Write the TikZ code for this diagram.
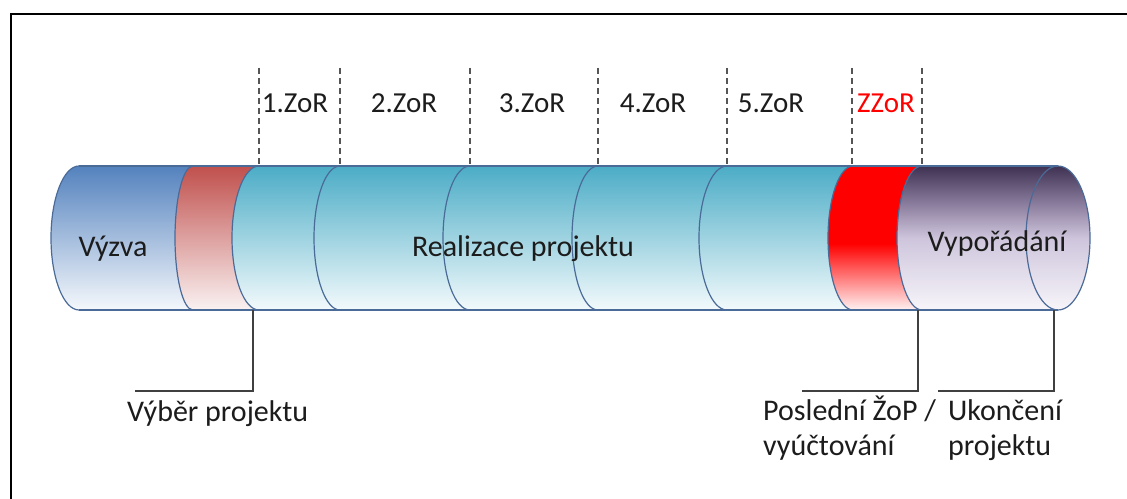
\documentclass[tikz,border=0pt]{standalone}
\usepackage{fontspec}
\setmainfont{Carlito}
\definecolor{outline}{HTML}{4A6A98}
\definecolor{txt}{HTML}{1C1C1C}
\definecolor{dashgray}{HTML}{555555}
\definecolor{callgray}{HTML}{404040}
\definecolor{blueT}{HTML}{5482BE}
\definecolor{blueB}{HTML}{F5F8FC}
\definecolor{roseT}{HTML}{C0504D}
\definecolor{roseB}{HTML}{FAF2F2}
\definecolor{tealT}{HTML}{4BACC6}
\definecolor{tealB}{HTML}{F3FAFC}
\definecolor{redT}{HTML}{FF0000}
\definecolor{redB}{HTML}{FFF2F2}
\definecolor{purpT}{HTML}{3F3151}
\definecolor{purpQ}{HTML}{8A7C9C}
\definecolor{purpM}{HTML}{CEC5DC}
\definecolor{purpB}{HTML}{F7F5FA}
\pgfdeclareverticalshading{purpshade}{100bp}{color(0bp)=(purpB); color(25bp)=(purpB); color(50bp)=(purpM); color(62bp)=(purpQ); color(75bp)=(purpT); color(100bp)=(purpT)}
\pgfdeclareverticalshading{redshade}{100bp}{color(0bp)=(redB); color(25bp)=(redB); color(48bp)=(redT); color(75bp)=(redT); color(100bp)=(redT)}
\begin{document}
\begin{tikzpicture}[x=1pt,y=1pt,
  outl/.style={draw=outline, line width=1.2pt},
  lbl/.style={font=\fontsize{30}{36}\selectfont, text=txt, inner sep=0pt},
  zlbl/.style={font=\fontsize{29}{34}\selectfont, text=txt, inner sep=0pt, anchor=base},
  tick/.style={draw=dashgray, line width=2pt, dash pattern=on 6pt off 4pt},
  callout/.style={draw=callgray, line width=2pt}]
\useasboundingbox (0,0) rectangle (1127,498);
% frame
\draw[black, line width=2.5pt] (11,-5) -- (11,484) -- (1132,484);
% segments
\shade[top color=blueT, bottom color=blueB] (79,332) arc[start angle=90,end angle=270,x radius=28,y radius=72] -- (193,188) arc[start angle=270,end angle=90,x radius=18,y radius=72] -- cycle;
\shade[top color=roseT, bottom color=roseB] (193,332) arc[start angle=90,end angle=270,x radius=18,y radius=72] -- (259,188) arc[start angle=270,end angle=90,x radius=27,y radius=72] -- cycle;
\shade[top color=tealT, bottom color=tealB] (259,332) arc[start angle=90,end angle=270,x radius=27,y radius=72] -- (853,188) arc[start angle=270,end angle=90,x radius=25,y radius=72] -- cycle;
\shade[shading=redshade] (853,332) arc[start angle=90,end angle=270,x radius=25,y radius=72] -- (922,188) arc[start angle=270,end angle=90,x radius=25,y radius=72] -- cycle;
\shade[shading=purpshade] (922,332) arc[start angle=90,end angle=270,x radius=25,y radius=72] -- (1058,188) arc[start angle=-90,end angle=90,x radius=32,y radius=72] -- cycle;
% outlines
\draw[outl] (79,332) -- (1058,332);
\draw[outl] (79,188) -- (1058,188);
\draw[outl] (79,332) arc[start angle=90,end angle=270,x radius=28,y radius=72];
\foreach \x/\r in {193/18, 259/27, 340/26, 470/27, 598/26, 727/28, 853/25, 922/25}
  {\draw[outl] (\x,332) arc[start angle=90,end angle=270,x radius=\r,y radius=72];}
\draw[outl] (1058,260) ellipse[x radius=32, y radius=72];
% dashed ticks
\foreach \x [count=\i] in {259,340,470,598,727,852,922}
  {\coordinate (t\i a) at (\x,430); \coordinate (t\i b) at (\x,333);
   \draw[tick] (t\i a) -- (t\i b);}
% tick labels
\node[zlbl] (z1) at (295,385) {1.ZoR};
\node[zlbl] (z2) at (404,385) {2.ZoR};
\node[zlbl] (z3) at (532,385) {3.ZoR};
\node[zlbl] (z4) at (653,385) {4.ZoR};
\node[zlbl] (z5) at (771,385) {5.ZoR};
\node[zlbl, text=red] (zz) at (886,385) {ZZoR};
% main labels
\node[lbl, anchor=base] (vyzva) at (113,241) {Výzva};
\node[lbl, anchor=base] (real) at (523,241) {Realizace projektu};
\node[lbl, anchor=base] (vypor) at (997,246) {Vypořádání};
% callouts
\coordinate (c1a) at (253,188); \coordinate (c1b) at (253,107); \coordinate (c1c) at (135,107);
\coordinate (c2a) at (918,188); \coordinate (c2b) at (918,107); \coordinate (c2c) at (802,107);
\coordinate (c3a) at (1054,188); \coordinate (c3b) at (1054,107); \coordinate (c3c) at (938,107);
\draw[callout] (c1a) -- (c1b) -- (c1c);
\draw[callout] (c2a) -- (c2b) -- (c2c);
\draw[callout] (c3a) -- (c3b) -- (c3c);
\node[lbl, anchor=base west] (vyber) at (127,76) {Výběr projektu};
\node[lbl, anchor=base west] (posl1) at (763,77) {Poslední ŽoP /};
\node[lbl, anchor=base west] (posl2) at (763,42) {vyúčtování};
\node[lbl, anchor=base west] (ukon1) at (948,77) {Ukončení};
\node[lbl, anchor=base west] (ukon2) at (948,42) {projektu};
\end{tikzpicture}
\end{document}
